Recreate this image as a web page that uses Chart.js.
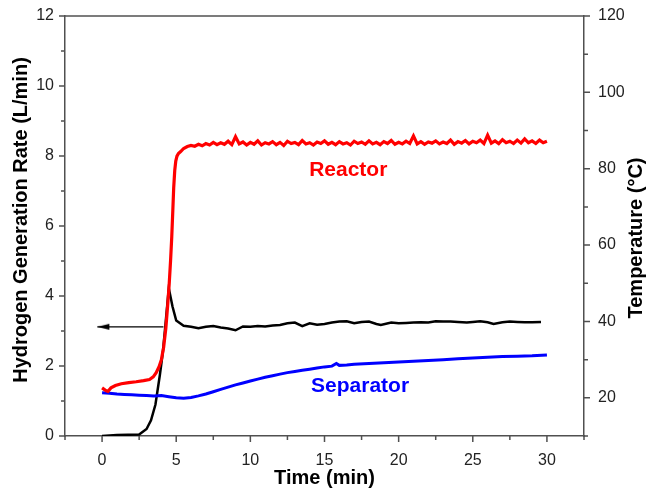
<!DOCTYPE html>
<html>
<head>
<meta charset="utf-8">
<script src="https://cdn.jsdelivr.net/npm/chart.js@4/dist/chart.umd.min.js"></script>
<style>
  html, body { margin: 0; padding: 0; background: #fff; }
  #wrap { width: 648px; height: 492px; }
</style>
</head>
<body>
<div id="wrap"><canvas id="chart" width="648" height="492"></canvas></div>
<script>
'use strict';

// hydrogen generation rate, left axis (L/min)
const rateTime = [0, 1, 2.5, 3.0, 3.3, 3.6, 3.9, 4.1, 4.26, 4.5, 4.75, 5.0, 5.5, 6.0, 6.5, 7.0, 7.5, 8.0, 8.5, 9.0, 9.5, 10, 10.5, 11, 11.5, 12, 12.5, 13, 13.5, 14, 14.5, 15, 15.5, 16, 16.5, 17, 17.5, 18, 18.5, 18.8, 19.5, 20, 20.5, 21, 21.5, 22, 22.5, 23, 23.5, 24, 24.6, 25, 25.5, 26, 26.4, 27, 27.5, 28, 28.5, 29, 29.6];
const rateValue = [0.0, 0.03, 0.04, 0.2, 0.45, 0.9, 1.75, 2.4, 3.12, 4.22, 3.7, 3.3, 3.15, 3.12, 3.08, 3.12, 3.14, 3.1, 3.07, 3.02, 3.13, 3.12, 3.14, 3.13, 3.16, 3.17, 3.22, 3.24, 3.14, 3.22, 3.18, 3.2, 3.24, 3.27, 3.28, 3.22, 3.26, 3.27, 3.2, 3.17, 3.24, 3.22, 3.23, 3.24, 3.25, 3.24, 3.28, 3.27, 3.27, 3.26, 3.24, 3.26, 3.28, 3.25, 3.2, 3.25, 3.27, 3.26, 3.25, 3.25, 3.26];

// reactor temperature, right axis (°C)
const reactorTime = [0, 0.25, 0.4, 0.6, 0.9, 1.3, 1.8, 2.3, 2.8, 3.2, 3.45, 3.65, 3.85, 4.0, 4.15, 4.3, 4.42, 4.53, 4.62, 4.7, 4.77, 4.83, 4.9, 4.97, 5.05, 5.15, 5.3,
  5.5, 5.75, 6.0, 6.25, 6.5, 6.75, 7.0, 7.25, 7.5, 7.75, 8.0, 8.25, 8.5, 8.75, 9.0, 9.25, 9.5, 9.75,
  10.0, 10.25, 10.5, 10.75, 11.0, 11.25, 11.5, 11.75, 12.0, 12.25, 12.5, 12.75, 13.0, 13.25, 13.5, 13.75,
  14.0, 14.25, 14.5, 14.75, 15.0, 15.25, 15.5, 15.75, 16.0, 16.25, 16.5, 16.75, 17.0, 17.25, 17.5, 17.75,
  18.0, 18.25, 18.5, 18.75, 19.0, 19.25, 19.5, 19.75, 20.0, 20.25, 20.5, 20.75, 21.0, 21.25, 21.5, 21.75,
  22.0, 22.25, 22.5, 22.75, 23.0, 23.25, 23.5, 23.75, 24.0, 24.25, 24.5, 24.75, 25.0, 25.25, 25.5, 25.75,
  26.0, 26.25, 26.5, 26.75, 27.0, 27.25, 27.5, 27.75, 28.0, 28.25, 28.5, 28.75, 29.0, 29.25, 29.5, 29.75, 30.0];
const reactorTemp = [22.6, 21.9, 21.7, 22.6, 23.2, 23.7, 24.0, 24.2, 24.5, 24.8, 25.5, 26.6, 28.2, 30.0, 33.2, 38.2, 44.0, 50.0, 56.0, 62.2, 69.0, 75.0, 79.5, 82.0, 83.3, 84.0, 84.5,
  85.3, 85.8, 86.1, 85.9, 86.4, 86.0, 86.6, 86.2, 86.9, 86.3, 86.8, 86.4, 87.2, 86.3, 88.4, 86.5, 87.0, 86.2,
  86.9, 86.4, 87.3, 86.2, 86.8, 86.5, 87.1, 86.3, 86.9, 86.1, 87.2, 86.6, 86.9, 86.3, 87.4, 86.5,
  86.8, 86.2, 87.0, 86.6, 87.3, 86.4, 86.9, 86.3, 87.1, 86.5, 86.8, 86.2, 87.2, 86.6, 87.0, 86.4,
  87.3, 86.5, 86.9, 86.3, 87.1, 86.6, 87.4, 86.4, 86.9, 86.5, 87.2, 86.6, 88.6, 86.5, 87.1, 86.4,
  87.0, 86.7, 87.3, 86.5, 87.0, 86.6, 87.5, 86.4, 87.1, 86.7, 87.4, 86.5, 87.2, 86.8, 87.5, 86.6,
  88.8, 86.7, 87.3, 86.6, 87.6, 86.8, 87.2, 86.6, 87.5, 86.7, 87.8, 86.8, 87.3, 86.6, 87.5, 86.8, 87.2];

// separator temperature, right axis (°C)
const separatorTime = [0, 0.5, 1, 1.5, 2, 2.5, 3, 3.5, 4, 4.5, 5, 5.5, 6, 6.5, 7, 7.5, 8, 8.5, 9, 9.5, 10, 10.5, 11, 11.5, 12, 12.5, 13, 13.5, 14, 14.5, 15, 15.5, 15.8, 16, 16.5, 17, 18, 19, 20, 21, 22, 23, 24, 25, 26, 27, 28, 29, 30];
const separatorTemp = [21.3, 21.2, 21.0, 20.9, 20.8, 20.7, 20.6, 20.5, 20.6, 20.3, 20.0, 19.9, 20.1, 20.5, 21.0, 21.6, 22.2, 22.8, 23.4, 23.9, 24.4, 24.9, 25.4, 25.8, 26.2, 26.6, 26.9, 27.2, 27.5, 27.8, 28.1, 28.3, 29.0, 28.5, 28.6, 28.8, 29.0, 29.2, 29.4, 29.6, 29.8, 30.0, 30.2, 30.4, 30.6, 30.8, 30.9, 31.0, 31.2];

// arrow marking the rate curve's axis
const arrowTime = [4.14, -0.32];
const arrowValue = [3.12, 3.12];

// tick labels
const xTickLabels = [0, 5, 10, 15, 20, 25, 30];
const leftTickLabels = [0, 2, 4, 6, 8, 10, 12];
const rightTickLabels = [20, 40, 60, 80, 100, 120];

// text labels (time, rate)
const seriesLabels = [
    { text: 'Reactor', x: 16.6, y: 7.6, color: '#ff0000' },
    { text: 'Separator', x: 17.4, y: 1.43, color: '#0000ff' }
];

const FONT = '"Liberation Sans", Arial, sans-serif';
const AXIS_COLOR = '#505050';

function toPoints(xs, ys) {
    return xs.map((x, i) => ({ x: x, y: ys[i] }));
}

// arrowhead image, tip at the image centre
function makeArrowHead() {
    const c = document.createElement('canvas');
    c.width = 26; c.height = 8;
    const g = c.getContext('2d');
    g.fillStyle = '#000';
    g.beginPath();
    g.moveTo(13, 4);
    g.lineTo(25, 1);
    g.lineTo(25, 7);
    g.closePath();
    g.fill();
    return c;
}
const arrowHead = makeArrowHead();

function labelOnly(list) {
    return function (value) {
        return list.includes(Number(value.toFixed(2))) ? String(value) : '';
    };
}

// tick marks, box top, titles and series labels
const decorations = {
    id: 'decorations',
    afterDraw(chart) {
        const ctx = chart.ctx;
        const area = chart.chartArea;
        const sx = chart.scales.x, sy = chart.scales.y, sy2 = chart.scales.y2;
        ctx.save();
        ctx.strokeStyle = AXIS_COLOR;
        ctx.lineWidth = 1.5;

        ctx.beginPath();
        ctx.moveTo(area.left, area.top);
        ctx.lineTo(area.right, area.top);
        ctx.stroke();

        ctx.beginPath();
        sx.ticks.forEach(t => {
            const px = sx.getPixelForValue(t.value);
            const len = xTickLabels.includes(t.value) ? 6 : 4;
            ctx.moveTo(px, area.bottom);
            ctx.lineTo(px, area.bottom + len);
        });
        sy.ticks.forEach(t => {
            const py = sy.getPixelForValue(t.value);
            const len = leftTickLabels.includes(t.value) ? 6 : 4;
            ctx.moveTo(area.left, py);
            ctx.lineTo(area.left - len, py);
        });
        sy2.ticks.forEach(t => {
            const py = sy2.getPixelForValue(t.value);
            const len = rightTickLabels.includes(t.value) ? 6 : 4;
            ctx.moveTo(area.right, py);
            ctx.lineTo(area.right + len, py);
        });
        ctx.stroke();

        // axis titles
        ctx.fillStyle = '#000';
        ctx.font = 'bold 20px ' + FONT;
        ctx.textAlign = 'center';
        ctx.textBaseline = 'middle';
        ctx.fillText('Time (min)', (area.left + area.right) / 2, 478);

        ctx.save();
        ctx.translate(21, 220);
        ctx.rotate(-Math.PI / 2);
        ctx.fillText('Hydrogen Generation Rate (L/min)', 0, 0);
        ctx.restore();

        ctx.save();
        ctx.translate(636, 238);
        ctx.rotate(-Math.PI / 2);
        ctx.fillText('Temperature (\u00B0C)', 0, 0);
        ctx.restore();

        // series labels
        ctx.font = 'bold 21px ' + FONT;
        seriesLabels.forEach(l => {
            ctx.fillStyle = l.color;
            ctx.fillText(l.text, sx.getPixelForValue(l.x), sy.getPixelForValue(l.y));
        });
        ctx.restore();
    }
};

const tickFont = { family: FONT, size: 16 };

function fixWidth(w) {
    return function (s) {
        s.width = w;
        s.paddingTop = 0;
        s.paddingBottom = 0;
    };
}

new Chart(document.getElementById('chart'), {
    type: 'line',
    data: {
        datasets: [
            {
                label: 'Reactor', data: toPoints(reactorTime, reactorTemp), yAxisID: 'y2',
                borderColor: '#ff0000', borderWidth: 3.2, pointRadius: 0, tension: 0
            },
            {
                label: 'Separator', data: toPoints(separatorTime, separatorTemp), yAxisID: 'y2',
                borderColor: '#0000ff', borderWidth: 3, pointRadius: 0, tension: 0
            },
            {
                label: 'Rate', data: toPoints(rateTime, rateValue), yAxisID: 'y',
                borderColor: '#000000', borderWidth: 2.5, pointRadius: 0, tension: 0
            },
            {
                label: 'Arrow', data: toPoints(arrowTime, arrowValue), yAxisID: 'y',
                borderColor: '#000000', borderWidth: 1.3, tension: 0,
                pointRadius: [0, 6], pointHoverRadius: 0,
                pointStyle: ctx => ctx.dataIndex === 1 ? arrowHead : 'circle'
            }
        ]
    },
    options: {
        responsive: false,
        animation: false,
        devicePixelRatio: 1,
        layout: { padding: { top: 16, left: 0, right: 0, bottom: 0 } },
        plugins: { legend: { display: false }, tooltip: { enabled: false } },
        scales: {
            x: {
                type: 'linear', position: 'bottom', min: -2.5, max: 32.5,
                ticks: {
                    stepSize: 2.5, autoSkip: false, maxRotation: 0, padding: 15,
                    font: tickFont, color: '#222', callback: labelOnly(xTickLabels)
                },
                grid: { display: false, drawTicks: false },
                border: { display: true, color: AXIS_COLOR, width: 1.5 },
                afterFit(s) { s.height = 56; s.paddingLeft = 0; s.paddingRight = 0; }
            },
            y: {
                position: 'left', min: 0, max: 12,
                ticks: {
                    stepSize: 1, autoSkip: false, padding: 11,
                    font: tickFont, color: '#222', callback: labelOnly(leftTickLabels)
                },
                grid: { display: false, drawTicks: false },
                border: { display: true, color: AXIS_COLOR, width: 1.5 },
                afterFit: fixWidth(65)
            },
            y2: {
                position: 'right', min: 10, max: 120,
                ticks: {
                    stepSize: 10, autoSkip: false, padding: 14,
                    font: tickFont, color: '#222', callback: labelOnly(rightTickLabels)
                },
                grid: { display: false, drawTicks: false },
                border: { display: true, color: AXIS_COLOR, width: 1.5 },
                afterFit: fixWidth(64)
            }
        }
    },
    plugins: [decorations]
});
</script>
</body>
</html>
